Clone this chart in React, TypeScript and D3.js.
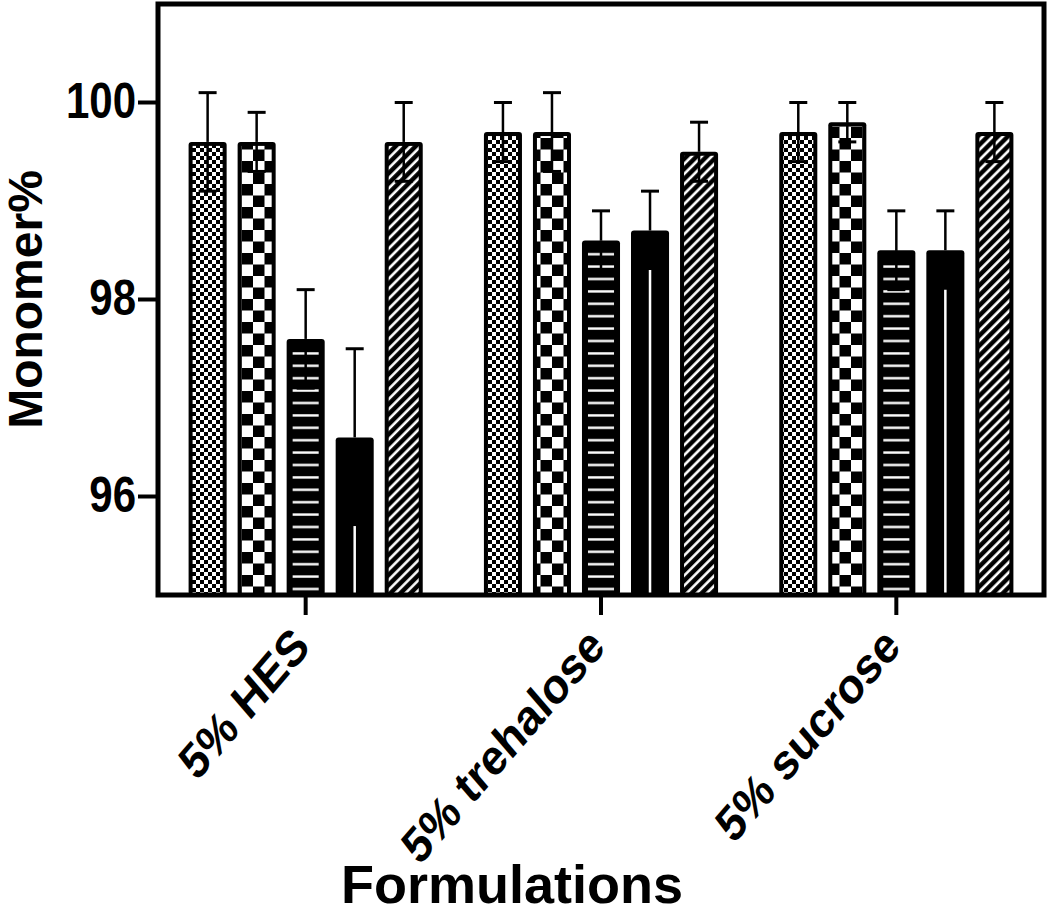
import React from "react";
import * as d3 from "d3";

const categories = ["5% HES", "5% trehalose", "5% sucrose"];
const seriesNames = ["fineChecker", "coarseChecker", "hLines", "solid", "diagonal"];

const hesMean = [99.6, 99.6, 97.6, 96.6, 99.6];
const hesSd = [0.5, 0.3, 0.5, 0.9, 0.4];
const trehaloseMean = [99.7, 99.7, 98.6, 98.7, 99.5];
const trehaloseSd = [0.3, 0.4, 0.3, 0.4, 0.3];
const sucroseMean = [99.7, 99.8, 98.5, 98.5, 99.7];
const sucroseSd = [0.3, 0.2, 0.4, 0.4, 0.3];

const yTicks = [96, 98, 100];

const width = 1050;
const height = 915;
const plot = { left: 158, right: 1044, top: 4, bottom: 595 };
const FONT = "'Liberation Sans', Arial, sans-serif";
// the original figure is a bit stretched vertically, text included
const STRETCH = 1.16;

// inset of the pattern inside the black bar outline
const insets = [4, 4, 6, 0, 4];

export default function App() {
  const means = [hesMean, trehaloseMean, sucroseMean];
  const sds = [hesSd, trehaloseSd, sucroseSd];

  const y = d3.scaleLinear().domain([95, 101]).range([plot.bottom, plot.top]);

  const x0 = d3
    .scaleBand()
    .domain(categories)
    .range([plot.left, plot.right])
    .paddingInner(0.17)
    .paddingOuter(0.085);

  const x1 = d3
    .scaleBand()
    .domain(seriesNames)
    .range([0, x0.bandwidth()])
    .paddingInner(0.224)
    .paddingOuter(0.112);

  const bars = [];
  categories.forEach((cat, ci) => {
    seriesNames.forEach((s, si) => {
      bars.push({ cat, s, si, mean: means[ci][si], sd: sds[ci][si] });
    });
  });

  const bw = x1.bandwidth();

  return (
    <svg width={width} height={height} style={{ position: "absolute", left: 0, top: 0 }}>
      <defs>
        <pattern id="pat0" patternUnits="userSpaceOnUse" width={8} height={8}>
          <rect width={8} height={8} fill="#000" />
          <rect x={0} y={0} width={4} height={4} fill="#fff" shapeRendering="crispEdges" />
          <rect x={4} y={4} width={4} height={4} fill="#fff" shapeRendering="crispEdges" />
        </pattern>
        <pattern id="pat1" patternUnits="userSpaceOnUse" width={23} height={23}>
          <rect width={23} height={23} fill="#000" />
          <rect x={0} y={0} width={11.5} height={11.5} fill="#fff" />
          <rect x={11.5} y={11.5} width={11.5} height={11.5} fill="#fff" />
        </pattern>
        <pattern id="pat2" patternUnits="userSpaceOnUse" width={12} height={12.4}>
          <rect width={12} height={12.4} fill="#000" />
          <rect x={0} y={5} width={12} height={2.4} fill="#fff" />
        </pattern>
        <pattern
          id="pat4"
          patternUnits="userSpaceOnUse"
          width={7.1}
          height={7.1}
          patternTransform="rotate(45)"
        >
          <rect width={7.1} height={7.1} fill="#000" />
          <rect x={2} y={0} width={2.6} height={7.1} fill="#fff" />
        </pattern>
      </defs>

      {/* bars */}
      {bars.map((b, i) => {
        const bx = x0(b.cat) + x1(b.s);
        const by = y(b.mean);
        const bh = y(95) - by;
        const ins = insets[b.si];
        return (
          <g key={"bar" + i}>
            <rect x={bx} y={by} width={bw} height={bh} rx={3} fill="#000" />
            {b.si !== 3 && (
              <rect
                x={bx + ins}
                y={by + ins}
                width={bw - 2 * ins}
                height={bh - ins}
                fill={`url(#pat${b.si})`}
              />
            )}
          </g>
        );
      })}

      {/* error bars */}
      {bars.map((b, i) => {
        const cx = x0(b.cat) + x1(b.s) + bw / 2;
        const top = y(b.mean + b.sd);
        const bot = y(b.mean - b.sd);
        const solid = b.si === 3;
        return (
          <g key={"err" + i}>
            <line x1={cx} x2={cx} y1={top} y2={y(b.mean)} stroke="#000" strokeWidth={2.5} />
            <line x1={cx - 9} x2={cx + 9} y1={top} y2={top} stroke="#000" strokeWidth={3} />
            {solid ? (
              <line x1={cx} x2={cx} y1={bot} y2={y(95)} stroke="#fff" strokeWidth={2.5} />
            ) : (
              <g>
                <line x1={cx} x2={cx} y1={y(b.mean)} y2={bot} stroke="#000" strokeWidth={2.5} />
                <line x1={cx - 9} x2={cx + 9} y1={bot} y2={bot} stroke="#000" strokeWidth={3} />
              </g>
            )}
          </g>
        );
      })}

      {/* frame */}
      <rect
        x={plot.left}
        y={plot.top}
        width={plot.right - plot.left}
        height={plot.bottom - plot.top}
        fill="none"
        stroke="#000"
        strokeWidth={5}
      />

      {/* y axis */}
      {yTicks.map((t) => (
        <g key={"yt" + t}>
          <line x1={plot.left - 20} x2={plot.left} y1={y(t)} y2={y(t)} stroke="#000" strokeWidth={4} />
          <text
            transform={`translate(${plot.left - 22}, ${y(t) + 15}) scale(1, 1.2)`}
            textAnchor="end"
            fontFamily={FONT}
            fontWeight="bold"
            fontSize={42}
          >
            {t}
          </text>
        </g>
      ))}
      <text
        transform={`translate(42, ${(plot.top + plot.bottom) / 2}) rotate(-90)`}
        textAnchor="middle"
        fontFamily={FONT}
        fontWeight="bold"
        fontSize={48}
      >
        Monomer%
      </text>

      {/* x axis */}
      {categories.map((c) => {
        const cx = x0(c) + x0.bandwidth() / 2;
        return (
          <g key={"xt" + c}>
            <line x1={cx} x2={cx} y1={plot.bottom} y2={plot.bottom + 20} stroke="#000" strokeWidth={4} />
            <text
              transform={`translate(${cx + 6}, ${plot.bottom + 54}) scale(1, ${STRETCH}) rotate(-45)`}
              textAnchor="end"
              fontFamily={FONT}
              fontWeight="bold"
              fontSize={43}
            >
              {c}
            </text>
          </g>
        );
      })}
      <text
        x={(plot.left + plot.right) / 2 - 89}
        y={903}
        textAnchor="middle"
        fontFamily={FONT}
        fontWeight="bold"
        fontSize={54}
      >
        Formulations
      </text>
    </svg>
  );
}
